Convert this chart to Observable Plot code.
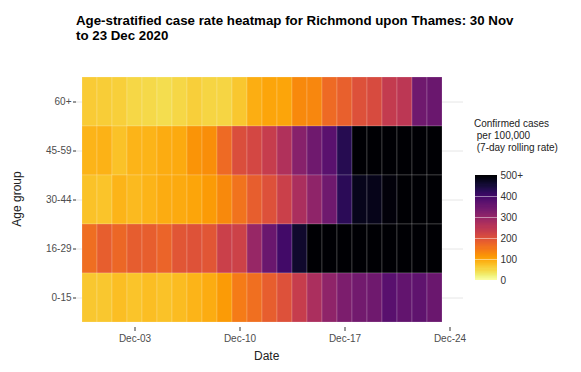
<!DOCTYPE html>
<html>
<head>
<meta charset="utf-8">
<script src="https://cdn.jsdelivr.net/npm/d3@7"></script>
<script src="https://cdn.jsdelivr.net/npm/@observablehq/plot@0.6"></script>
<style>
  html, body { margin: 0; padding: 0; background: white; }
  body { width: 581px; height: 372px; position: relative; overflow: hidden; font-family: "Liberation Sans", Arial, sans-serif; }
  #title { position: absolute; left: 76px; top: 13px; font-size: 13.3px; font-weight: bold; line-height: 15px; color: #000; }
  #chart { position: absolute; left: 0; top: 45px; }
  #legend { position: absolute; left: 475px; top: 167px; }
  #legtitle { position: absolute; left: 474px; top: 118px; font-size: 10px; line-height: 12px; color: #222; white-space: pre; }
  .axtitle { position: absolute; font-size: 12px; color: #222; }
</style>
</head>
<body>
<div id="title">Age-stratified case rate heatmap for Richmond upon Thames: 30 Nov<br>to 23 Dec 2020</div>
<div id="chart"></div>
<div id="legtitle">Confirmed cases
 per 100,000
 (7-day rolling rate)</div>
<div id="legend"></div>
<div class="axtitle" id="xtitle" style="left:254px; top:349px;">Date</div>
<div class="axtitle" id="ytitle" style="left:-13px; top:192px; transform: rotate(-90deg); transform-origin: center; width:60px; text-align:center;">Age group</div>
<script>
const dates = [
  "2020-11-30","2020-12-01","2020-12-02","2020-12-03","2020-12-04","2020-12-05",
  "2020-12-06","2020-12-07","2020-12-08","2020-12-09","2020-12-10","2020-12-11",
  "2020-12-12","2020-12-13","2020-12-14","2020-12-15","2020-12-16","2020-12-17",
  "2020-12-18","2020-12-19","2020-12-20","2020-12-21","2020-12-22","2020-12-23"
];
const groups = ["60+", "45-59", "30-44", "16-29", "0-15"];
const rate60plus = [62, 60, 58, 50, 47, 44, 49, 58, 51, 51, 66, 90, 100, 100, 130, 132, 165, 178, 200, 210, 240, 250, 345, 350];
const rate45to59 = [84, 86, 72, 84, 85, 92, 95, 118, 125, 165, 205, 215, 235, 265, 315, 345, 370, 430, 540, 560, 590, 610, 600, 580];
const rate30to44 = [72, 70, 85, 80, 85, 92, 95, 100, 110, 130, 155, 180, 200, 230, 270, 305, 345, 425, 475, 478, 492, 520, 540, 530];
const rate16to29 = [162, 180, 168, 183, 181, 172, 193, 198, 193, 230, 225, 295, 350, 400, 460, 520, 560, 600, 620, 640, 650, 640, 630, 610];
const rate0to15 = [66, 66, 76, 70, 76, 72, 77, 85, 92, 110, 145, 160, 180, 200, 235, 270, 305, 330, 340, 345, 372, 360, 365, 350];
const xTickDates = ["2020-12-03", "2020-12-10", "2020-12-17", "2020-12-24"];
const xTickLabels = ["Dec-03", "Dec-10", "Dec-17", "Dec-24"];
const legendTicks = [0, 100, 200, 300, 400, 500];
const legendLabels = ["0", "100", "200", "300", "400", "500+"];

const seriesByGroup = [rate60plus, rate45to59, rate30to44, rate16to29, rate0to15];
const data = groups.flatMap((g, i) => seriesByGroup[i].map((v, j) => ({date: dates[j], group: g, rate: v})));

const colorOpts = {type: "linear", scheme: "inferno", reverse: true, domain: [0, 500], clamp: true};

const chart = Plot.plot({
  width: 581, height: 327,
  marginLeft: 76, marginRight: 118, marginTop: 30, marginBottom: 45,
  insetBottom: 3,
  style: {fontFamily: "Liberation Sans, Arial, sans-serif", fontSize: "10px", background: "transparent"},
  x: {type: "band", domain: [...dates, "2020-12-24"], padding: 0},
  y: {type: "band", domain: groups, padding: 0},
  color: colorOpts,
  marks: [
    Plot.gridY({stroke: "#e6e6e6", strokeOpacity: 1}),
    Plot.cell(data, {x: "date", y: "group", fill: "rate", stroke: "white", strokeOpacity: 0.3, strokeWidth: 0.6, inset: 0}),
    Plot.axisX({ticks: xTickDates, tickFormat: d => xTickLabels[xTickDates.indexOf(d)], tickSize: 4, tickPadding: 3, label: null, line: true, stroke: "#333", fill: "#4d4d4d"}),
    Plot.axisY({tickSize: 3, tickPadding: 2, label: null, line: true, stroke: "#333", fill: "#4d4d4d"})
  ]
});
document.getElementById("chart").appendChild(chart);

const steps = d3.range(0, 500, 5);
const legend = Plot.plot({
  width: 62, height: 121,
  marginLeft: 0, marginRight: 40, marginTop: 8, marginBottom: 8,
  style: {fontFamily: "Liberation Sans, Arial, sans-serif", fontSize: "10px", background: "transparent"},
  x: {domain: [0, 1], axis: null},
  y: {domain: [0, 500]},
  color: colorOpts,
  marks: [
    Plot.rect(steps, {x1: 0, x2: 1, y1: d => d, y2: d => Math.min(500, d + 7), fill: d => d + 2.5, shapeRendering: "crispEdges"}),
    Plot.tickY(legendTicks.slice(1, 5), {y: d => d, stroke: "white", strokeOpacity: 0.6, strokeWidth: 0.8}),
    Plot.axisY({anchor: "right", ticks: legendTicks, tickFormat: d => legendLabels[legendTicks.indexOf(d)], tickSize: 0, tickPadding: 3, label: null, fill: "#333"})
  ]
});
document.getElementById("legend").appendChild(legend);
</script>
</body>
</html>
